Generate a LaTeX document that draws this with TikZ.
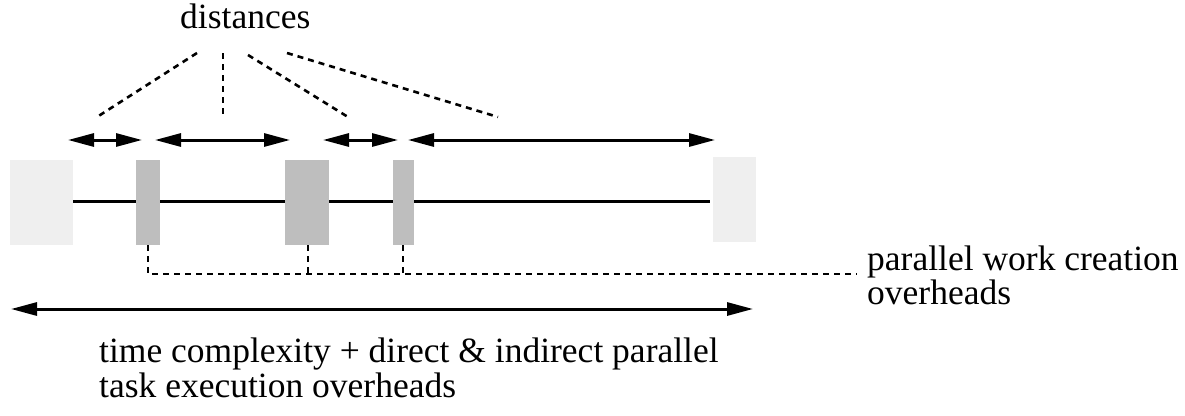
\documentclass[tikz,border=0pt]{standalone}
\usepackage{fontspec}
\setmainfont{Liberation Serif}
\usetikzlibrary{arrows.meta}
\definecolor{lightbox}{HTML}{EFEFEF}
\definecolor{darkbox}{HTML}{BEBEBE}
\tikzset{
  lbl/.style={inner sep=0pt, anchor=base west, font=\fontsize{35.5pt}{34pt}\selectfont},
  lightblk/.style={fill=lightbox, draw=none, inner sep=0pt, anchor=north west},
  darkblk/.style={fill=darkbox, draw=none, inner sep=0pt, anchor=north west},
  dist/.style={line width=3pt, {Triangle[length=26pt,width=13pt]}-{Triangle[length=26pt,width=13pt]}},
  dsh/.style={line width=2.6pt, dash pattern=on 6pt off 5pt},
  tl/.style={line width=3pt}
}
\begin{document}
\begin{tikzpicture}[x=1pt,y=-1pt]
\useasboundingbox (0,0) rectangle (1185,415);
% texts
\node[lbl] (dtext) at (180,28) {distances};
\node[lbl] (pw1) at (867,270) {parallel work creation};
\node[lbl] (pw2) at (867,304) {overheads};
\node[lbl] (tc1) at (99,362) {time complexity + direct \& indirect parallel};
\node[lbl] (tc2) at (99,397) {task execution overheads};
% blocks
\node[lightblk, minimum width=63pt, minimum height=85pt] (b1) at (10,160) {};
\node[darkblk, minimum width=24pt, minimum height=85pt] (b2) at (136,160) {};
\node[darkblk, minimum width=44pt, minimum height=85pt] (b3) at (285,160) {};
\node[darkblk, minimum width=21pt, minimum height=85pt] (b4) at (393,160) {};
\node[lightblk, minimum width=43pt, minimum height=85pt] (b5) at (713,157) {};
% timeline
\coordinate (tend) at (710,201);
\draw[tl] (b1.east |- 0,201) -- (b2.west |- 0,201);
\draw[tl] (b2.east |- 0,201) -- (b3.west |- 0,201);
\draw[tl] (b3.east |- 0,201) -- (b4.west |- 0,201);
\draw[tl] (b4.east |- 0,201) -- (tend);
% distance arrows
\coordinate (a1l) at (68,140);  \coordinate (a1r) at (142,140);
\coordinate (a2l) at (155,140); \coordinate (a2r) at (290,140);
\coordinate (a3l) at (323,140); \coordinate (a3r) at (398,140);
\coordinate (a4l) at (408,140); \coordinate (a4r) at (715,140);
\draw[dist] (a1l) -- (a1r);
\draw[dist] (a2l) -- (a2r);
\draw[dist] (a3l) -- (a3r);
\draw[dist] (a4l) -- (a4r);
% dashed pointers from "distances"
\coordinate (s1) at (197,53); \coordinate (e1) at (97,117);
\coordinate (s2) at (223,53); \coordinate (e2) at (223,117);
\coordinate (s3) at (248,55); \coordinate (e3) at (348,117);
\coordinate (s4) at (287,53); \coordinate (e4) at (498,117);
\draw[dsh] (s1) -- (e1);
\draw[dsh] (s2) -- (e2);
\draw[dsh] (s3) -- (e3);
\draw[dsh] (s4) -- (e4);
% overhead dashed connectors
\coordinate (h1) at (148,274);
\coordinate (hend) at (857,274);
\draw[dsh] (b2.south -| 148,0) -- (h1) -- (hend);
\draw[dsh] (b3.south -| 308,0) -- (308,274);
\draw[dsh] (b4.south -| 403,0) -- (403,274);
% total arrow
\coordinate (tl) at (11,309);
\coordinate (tr) at (753,309);
\draw[dist] (tl) -- (tr);
\end{tikzpicture}
\end{document}
